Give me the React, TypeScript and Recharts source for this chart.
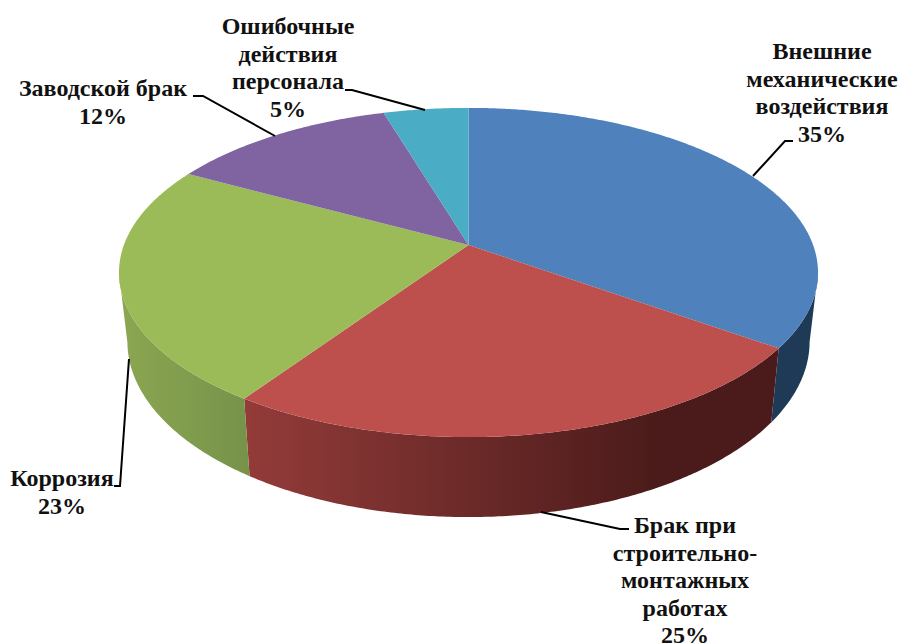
import React from "react";
import { PieChart, Pie } from "recharts";

const categories = ["Внешние механические воздействия", "Брак при строительно-монтажных работах", "Коррозия", "Заводской брак", "Ошибочные действия персонала"];
const values = [34.8, 24.5, 23.4, 12.4, 4.6];
const percentLabels = ["35%", "25%", "23%", "12%", "5%"];
const labelLines = [
  ["Внешние", "механические", "воздействия", "35%"],
  ["Брак при", "строительно-", "монтажных", "работах", "25%"],
  ["Коррозия", "23%"],
  ["Заводской брак", "12%"],
  ["Ошибочные", "действия", "персонала", "5%"],
];
const fills = ["#4f81bd", "#bd504d", "#9bbb59", "#8064a2", "#4bacc6"];

const wallStops: string[][] = [
  ["#1f3a57", "#1f3a57"],
  ["#923b39", "#4a1b1a"],
  ["#8aa651", "#76924a"],
  ["#6a5387", "#6a5387"],
  ["#3b8fa6", "#3b8fa6"],
];
const wallRange = [[770, 820], [250, 660], [125, 252], [0, 900], [0, 900]];
const labelX = [822, 685, 62, 103, 288];
const labelY = [59, 533, 486, 96, 34];
const leaders = [
  "753,176 785,141 793,141",
  "541,512 620,529 629,529",
  "129,359 120,486 114,486",
  "275,136 203,96 193,96",
  "425,110 352,90 345,90",
];

const rows = categories.map((name, i) => ({ name, value: values[i], fill: fills[i], pct: percentLabels[i] }));

const K = 0.167;
const SQUASH = 0.4643;
const ELLIPSE_MID = 272.5;

function rim(cx: number, cy: number, r: number, t: number) {
  const rad = (t * Math.PI) / 180;
  const u = Math.sin(rad);
  const v = Math.cos(rad);
  const w = 1 + K * v;
  return { x: cx + (r * u) / w, y: cy - (r * SQUASH * v) / w };
}

function lower(cx: number, p: { x: number; y: number }) {
  return { x: cx + (p.x - cx) * 0.976, y: p.y + 80 - (437 - p.y) * 0.067 };
}

function Slice(props: any) {
  const { cx, cy, outerRadius, startAngle, endAngle, fill, index } = props;
  const t0 = 90 - startAngle;
  const t1 = 90 - endAngle;
  const steps = Math.max(2, Math.ceil((t1 - t0) * 2));
  const pts = [];
  for (let i = 0; i <= steps; i++) pts.push(rim(cx, cy, outerRadius, t0 + ((t1 - t0) * i) / steps));
  const top = `M${cx},${cy} ` + pts.map((p) => `L${p.x.toFixed(2)},${p.y.toFixed(2)}`).join(" ") + " Z";
  const front = pts.filter((p) => p.y >= ELLIPSE_MID);
  const id = `wall-${index}`;
  const [x1, x2] = wallRange[index];
  let wall = "";
  if (front.length > 1) {
    const bottom = front.map((p) => lower(cx, p)).reverse();
    wall = "M" + [...front, ...bottom].map((p) => `${p.x.toFixed(2)},${p.y.toFixed(2)}`).join(" L") + " Z";
  }
  return (
    <g>
      <defs>
        <linearGradient id={id} gradientUnits="userSpaceOnUse" x1={x1} x2={x2} y1={0} y2={0}>
          <stop offset="0%" stopColor={wallStops[index][0]} />
          <stop offset="100%" stopColor={wallStops[index][1]} />
        </linearGradient>
      </defs>
      {wall && <path d={wall} fill={`url(#${id})`} stroke="none" />}
      <path d={top} fill={fill} stroke="none" />
    </g>
  );
}

function SliceLabel(props: any) {
  const { index } = props;
  return (
    <g>
      <polyline points={leaders[index]} fill="none" stroke="#000" strokeWidth={2} />
      <text
        x={labelX[index]}
        y={labelY[index]}
        textAnchor="middle"
        fontFamily="'Liberation Serif', serif"
        fontWeight={700}
        fontSize={24}
        fill="#111"
      >
        {labelLines[index].map((line, i) => (
          <tspan key={i} x={labelX[index]} dy={i === 0 ? 0 : 27.6}>
            {line}
          </tspan>
        ))}
      </text>
    </g>
  );
}

export default function App() {
  return (
    <div style={{ position: "absolute", left: 0, top: 0, width: 901, height: 643, background: "#fff", overflow: "hidden" }}>
      <PieChart width={901} height={643} margin={{ top: 0, right: 0, bottom: 0, left: 0 }}>
        <Pie
          data={rows}
          dataKey="value"
          nameKey="name"
          cx={468.5}
          cy={245}
          innerRadius={0}
          outerRadius={344.6}
          startAngle={90}
          endAngle={-270}
          stroke="none"
          isAnimationActive={false}
          shape={Slice}
          label={SliceLabel}
          labelLine={false}
        />
      </PieChart>
    </div>
  );
}
